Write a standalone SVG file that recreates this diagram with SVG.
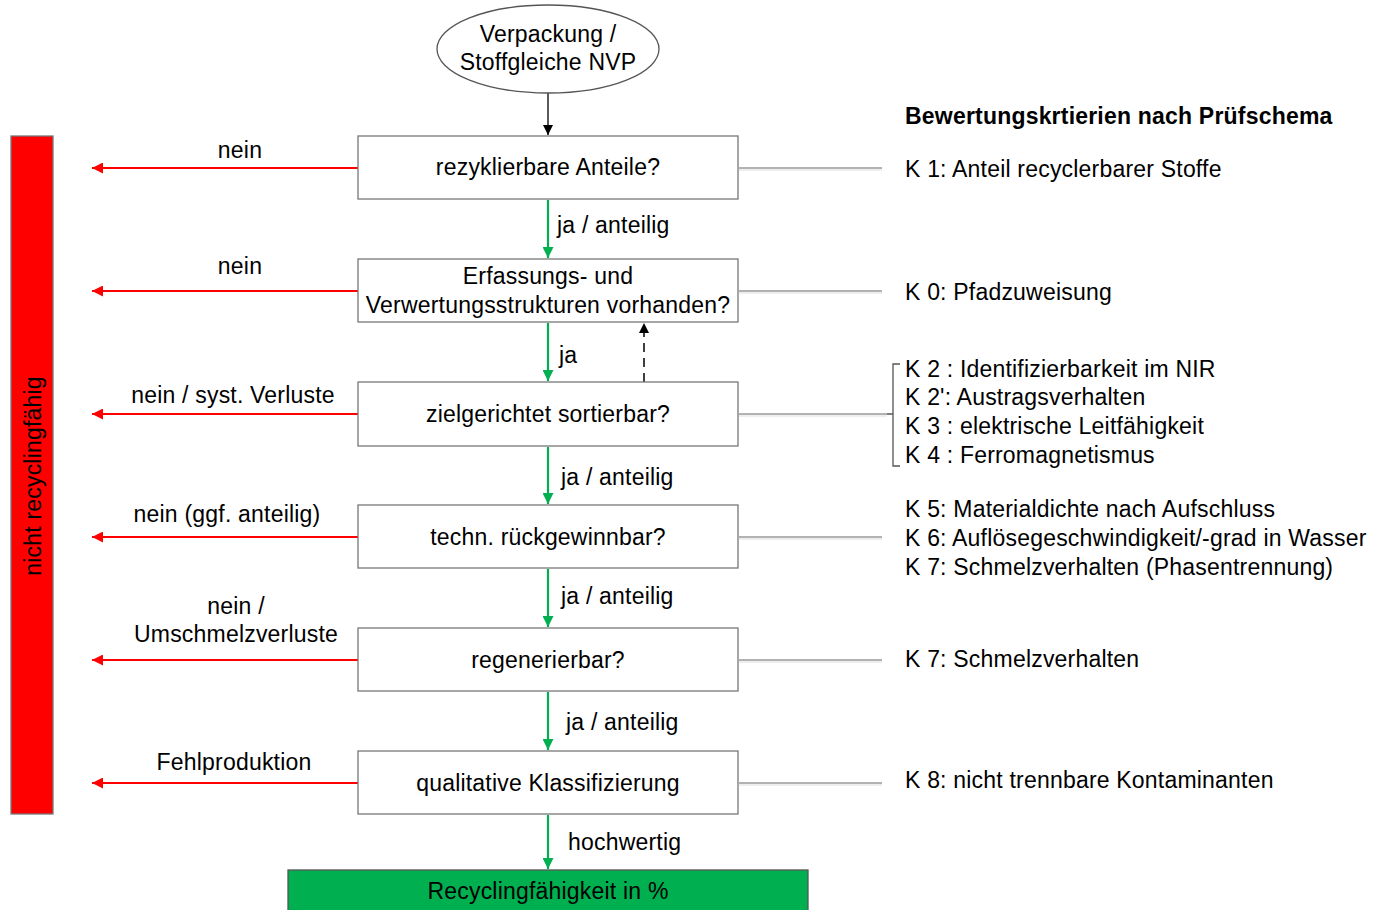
<svg xmlns="http://www.w3.org/2000/svg" width="1377" height="910" viewBox="0 0 1377 910">
<defs>
<style>
text{font-family:"Liberation Sans",Arial,sans-serif;font-size:23px;letter-spacing:0.2px;fill:#000}
.c{text-anchor:middle}
.box{fill:#fff;stroke:#777;stroke-width:1.3}
.red{stroke:#f00;stroke-width:2.2;fill:none}
.grn{stroke:#00b050;stroke-width:2.2;fill:none}
.gl{stroke:#999;stroke-width:1.3;fill:none}
.gl2{stroke:#ddd;stroke-width:1;fill:none}
</style>
<marker id="ar" viewBox="0 0 10 10" refX="10" refY="5" markerWidth="13" markerHeight="11" orient="auto" markerUnits="userSpaceOnUse"><path d="M0,0L10,5L0,10z" fill="#f00"/></marker>
<marker id="ag" viewBox="0 0 10 10" refX="10" refY="5" markerWidth="13" markerHeight="11" orient="auto" markerUnits="userSpaceOnUse"><path d="M0,0L10,5L0,10z" fill="#00b050"/></marker>
<marker id="ab" viewBox="0 0 10 10" refX="10" refY="5" markerWidth="12" markerHeight="10" orient="auto" markerUnits="userSpaceOnUse"><path d="M0,0L10,5L0,10z" fill="#000"/></marker>
</defs>
<rect width="1377" height="910" fill="#fff"/>

<g id="connectors">
<line x1="548" y1="93" x2="548" y2="135" stroke="#000" stroke-width="1.3" marker-end="url(#ab)"/>
<line class="grn" x1="548" y1="200" x2="548" y2="258" marker-end="url(#ag)"/>
<line class="grn" x1="548" y1="323" x2="548" y2="381" marker-end="url(#ag)"/>
<line class="grn" x1="548" y1="447" x2="548" y2="504" marker-end="url(#ag)"/>
<line class="grn" x1="548" y1="569" x2="548" y2="627" marker-end="url(#ag)"/>
<line class="grn" x1="548" y1="692" x2="548" y2="750" marker-end="url(#ag)"/>
<line class="grn" x1="548" y1="815" x2="548" y2="869" marker-end="url(#ag)"/>
<line x1="644" y1="382" x2="644" y2="323" stroke="#000" stroke-width="1.5" stroke-dasharray="9,6" marker-end="url(#ab)"/>
<line class="red" x1="358" y1="168" x2="92" y2="168" marker-end="url(#ar)"/>
<line class="red" x1="358" y1="291" x2="92" y2="291" marker-end="url(#ar)"/>
<line class="red" x1="358" y1="414" x2="92" y2="414" marker-end="url(#ar)"/>
<line class="red" x1="358" y1="537" x2="92" y2="537" marker-end="url(#ar)"/>
<line class="red" x1="358" y1="660" x2="92" y2="660" marker-end="url(#ar)"/>
<line class="red" x1="358" y1="783" x2="92" y2="783" marker-end="url(#ar)"/>
<g>
<line class="gl" x1="739" y1="168" x2="882" y2="168"/><line class="gl2" x1="739" y1="170" x2="882" y2="170"/>
<line class="gl" x1="739" y1="291" x2="882" y2="291"/><line class="gl2" x1="739" y1="293" x2="882" y2="293"/>
<line class="gl" x1="739" y1="414" x2="887" y2="414"/><line class="gl2" x1="739" y1="416" x2="887" y2="416"/>
<line class="gl" x1="739" y1="537" x2="882" y2="537"/><line class="gl2" x1="739" y1="539" x2="882" y2="539"/>
<line class="gl" x1="739" y1="660" x2="882" y2="660"/><line class="gl2" x1="739" y1="662" x2="882" y2="662"/>
<line class="gl" x1="739" y1="783" x2="882" y2="783"/><line class="gl2" x1="739" y1="785" x2="882" y2="785"/>
<path d="M900,364 L893,364 L893,466 L900,466 M893,414 L887,414" stroke="#555" stroke-width="1.3" fill="none"/>
</g>
</g>

<g id="start">
<ellipse cx="548" cy="49" rx="111" ry="44" fill="#fff" stroke="#555" stroke-width="1.3"/>
<text class="c" x="548" y="42">Verpackung /</text>
<text class="c" x="548" y="70">Stoffgleiche NVP</text>
</g>

<g id="n1"><rect class="box" x="358" y="136" width="380" height="63"/><text class="c" x="548" y="175">rezyklierbare Anteile?</text></g>
<g id="n2"><rect class="box" x="358" y="259" width="380" height="63"/><text class="c" x="548" y="284">Erfassungs- und</text><text class="c" x="548" y="313">Verwertungsstrukturen vorhanden?</text></g>
<g id="n3"><rect class="box" x="358" y="382" width="380" height="64"/><text class="c" x="548" y="422">zielgerichtet sortierbar?</text></g>
<g id="n4"><rect class="box" x="358" y="505" width="380" height="63"/><text class="c" x="548" y="545">techn. rückgewinnbar?</text></g>
<g id="n5"><rect class="box" x="358" y="628" width="380" height="63"/><text class="c" x="548" y="668">regenerierbar?</text></g>
<g id="n6"><rect class="box" x="358" y="751" width="380" height="63"/><text class="c" x="548" y="791">qualitative Klassifizierung</text></g>
<g id="result"><rect x="288" y="870" width="520" height="42" fill="#00b050" stroke="#555" stroke-width="1.3"/><text class="c" x="548" y="899">Recyclingfähigkeit in %</text></g>

<g id="notrecyclable">
<rect x="11" y="136" width="42" height="678" fill="#f00" stroke="#777" stroke-width="1.3"/>
<text class="c" transform="translate(41,476) rotate(-90)">nicht recyclingfähig</text>
</g>

<g id="labels">
<text x="557" y="233">ja / anteilig</text>
<text x="559" y="363">ja</text>
<text x="561" y="485">ja / anteilig</text>
<text x="561" y="604">ja / anteilig</text>
<text x="566" y="730">ja / anteilig</text>
<text x="568" y="850">hochwertig</text>
<text class="c" x="240" y="158">nein</text>
<text class="c" x="240" y="274">nein</text>
<text class="c" x="233" y="403">nein / syst. Verluste</text>
<text class="c" x="227" y="522">nein (ggf. anteilig)</text>
<text class="c" x="236" y="614">nein /</text>
<text class="c" x="236" y="642">Umschmelzverluste</text>
<text class="c" x="234" y="770">Fehlproduktion</text>
</g>

<g id="criteria">
<text x="905" y="124" font-weight="bold" letter-spacing="0">Bewertungskrtierien nach Prüfschema</text>
<text x="905" y="177">K 1: Anteil recyclerbarer Stoffe</text>
<text x="905" y="300">K 0: Pfadzuweisung</text>
<text x="905" y="377">K 2 : Identifizierbarkeit im NIR</text>
<text x="905" y="405">K 2': Austragsverhalten</text>
<text x="905" y="434">K 3 : elektrische Leitfähigkeit</text>
<text x="905" y="463">K 4 : Ferromagnetismus</text>
<text x="905" y="517">K 5: Materialdichte nach Aufschluss</text>
<text x="905" y="546">K 6: Auflösegeschwindigkeit/-grad in Wasser</text>
<text x="905" y="575">K 7: Schmelzverhalten (Phasentrennung)</text>
<text x="905" y="667">K 7: Schmelzverhalten</text>
<text x="905" y="788">K 8: nicht trennbare Kontaminanten</text>
</g>
</svg>
